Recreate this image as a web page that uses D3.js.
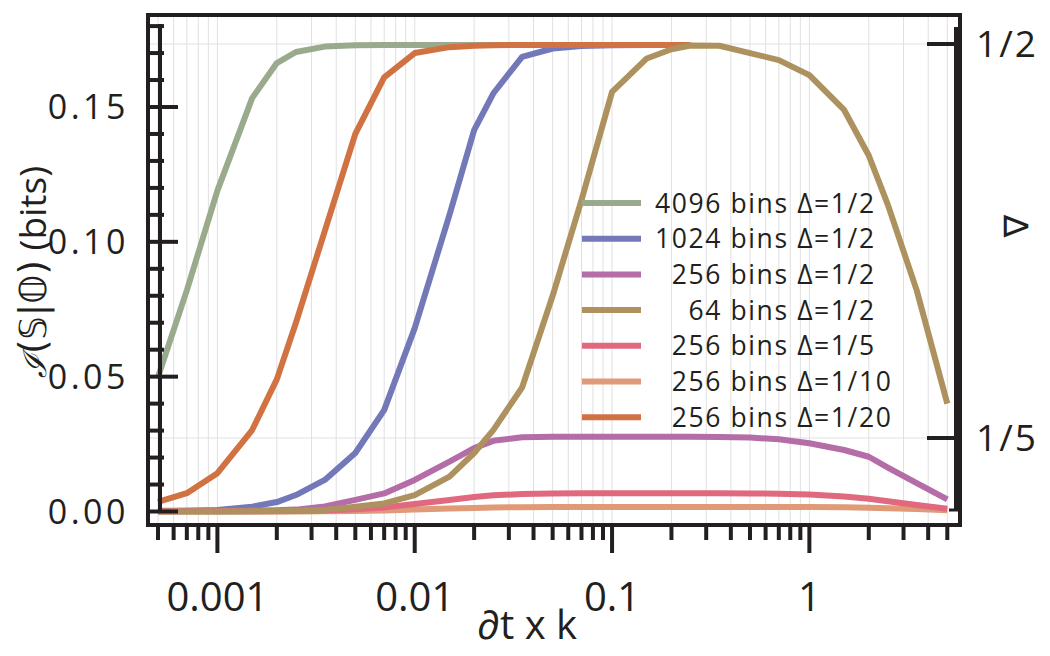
<!DOCTYPE html>
<html><head><meta charset="utf-8">
<script src="https://cdn.jsdelivr.net/npm/d3@7"></script>
<style>
body{margin:0;background:#fff}
svg{display:block}
text{fill:#231f20}
</style>
</head><body>
<svg id="c" width="1050" height="656"></svg>
<script>
// ---------------- data ----------------
const xValues = [0.0005,0.0007,0.001,0.0015,0.002,0.0025,0.0035,0.005,0.007,0.01,0.015,0.02,0.025,0.035,0.05,0.07,0.1,0.15,0.2,0.25,0.35,0.5,0.7,1,1.5,2,2.5,3.5,5];

const bins4096_d2 = [0.0499,0.082,0.119,0.1533,0.1663,0.1704,0.1724,0.1729,0.1730,0.1730,0.1730,0.1730,0.1730,0.1730,0.1730,0.1730,0.1730];
const bins1024_d2 = [0.0001,0.0003,0.0006,0.0018,0.0035,0.0061,0.0117,0.0217,0.0376,0.068,0.110,0.1414,0.155,0.1686,0.1717,0.1726,0.1729,0.1730,0.1730,0.1730];
const bins256_d2  = [0.0003,0.0003,0.0003,0.0004,0.0005,0.0007,0.0019,0.0043,0.0067,0.0117,0.0185,0.0235,0.0262,0.0275,0.0277,0.0277,0.0277,0.0277,0.0277,0.0277,0.0276,0.0274,0.0268,0.0253,0.0228,0.0203,0.0163,0.0105,0.0045];
const bins64_d2   = [0,0,0,0.0001,0.0002,0.0003,0.0006,0.0018,0.003,0.0061,0.0129,0.0217,0.0302,0.046,0.080,0.1155,0.1556,0.168,0.1714,0.1728,0.1727,0.170,0.1674,0.1618,0.1489,0.132,0.1137,0.082,0.0400];
const bins256_d5  = [0.0001,0.0001,0.0001,0.0001,0.0001,0.0002,0.0004,0.0008,0.0015,0.0028,0.0043,0.0054,0.006,0.0065,0.0067,0.0068,0.0068,0.0068,0.0068,0.0068,0.0068,0.0067,0.0066,0.0063,0.0056,0.0047,0.0038,0.0024,0.0010];
const bins256_d10 = [0,0,0,0,0,0,0.0001,0.0002,0.0004,0.0007,0.0011,0.0013,0.0015,0.0016,0.0017,0.0017,0.0017,0.0017,0.0017,0.0017,0.0017,0.0017,0.0017,0.0017,0.0016,0.0014,0.0012,0.0009,0.0005];
const bins256_d20 = [0.0036,0.0068,0.0142,0.0302,0.049,0.070,0.104,0.140,0.161,0.170,0.1722,0.1727,0.1729,0.1730,0.1730,0.1730,0.1730,0.1730,0.1730,0.1730];

const legendLabels = ["4096 bins Δ=1/2","1024 bins Δ=1/2","\u2007256 bins Δ=1/2","\u2007\u200764 bins Δ=1/2","\u2007256 bins Δ=1/5","\u2007256 bins Δ=1/10","\u2007256 bins Δ=1/20"];
const seriesColors = ["#9aab8d","#7378b8","#b46da6","#ad925f","#e0697e","#e09a78","#d17243"];
const legendSeries = [bins4096_d2,bins1024_d2,bins256_d2,bins64_d2,bins256_d5,bins256_d10,bins256_d20];
const drawOrder = [0,1,2,5,4,6,3];

const xMajorTicks = [0.001,0.01,0.1,1];
const xTickLabels = ["0.001","0.01","0.1","1"];
const yMajorTicks = [0,0.05,0.10,0.15];
const yTickLabels = ["0.00","0.05","0.10","0.15"];
const rightTicks = [0.2,0.5];
const rightTickLabels = ["1/5","1/2"];

// ---------------- layout ----------------
const svg = d3.select("#c");
const frame = {l:148, r:960, t:15, b:525};
const x = d3.scaleLog().domain([0.0005,5]).range([158,947.3]);
const y = d3.scaleLinear().domain([0,0.15]).range([511.5,107]);
const yR = d3.scaleLinear().domain([0.2,0.5]).range([438,44]);
const ink = "#231f20";

// minor x ticks
const xMinor = [];
for (let e=-4;e<=0;e++) for (let m=1;m<=9;m++){ const v=m*Math.pow(10,e); if (v>=0.0005-1e-12 && v<=5+1e-9) xMinor.push(+v.toPrecision(3)); }

// gridlines
const grid = svg.append("g").attr("stroke","#e0e0e0").attr("stroke-width",1);
grid.selectAll("line.v").data(xMinor).join("line")
  .attr("x1",d=>x(d)).attr("x2",d=>x(d)).attr("y1",frame.t).attr("y2",frame.b);
grid.selectAll("line.h").data(rightTicks).join("line")
  .attr("x1",frame.l).attr("x2",frame.r).attr("y1",d=>yR(d)).attr("y2",d=>yR(d));

// lines
const line = d3.line().x((d,i)=>x(xValues[i])).y(d=>y(d));
svg.append("g").selectAll("path").data(drawOrder).join("path")
  .attr("d",i=>line(legendSeries[i]))
  .attr("fill","none").attr("stroke",i=>seriesColors[i])
  .attr("stroke-width",6).attr("stroke-linejoin","round").attr("stroke-linecap","butt");

// frame
svg.append("rect").attr("x",frame.l).attr("y",frame.t).attr("width",frame.r-frame.l).attr("height",frame.b-frame.t)
  .attr("fill","none").attr("stroke",ink).attr("stroke-width",4);

// left inner spine + ticks
const yMinor = d3.range(0,19).map(i=>i/100);
svg.append("line").attr("x1",160).attr("x2",160).attr("y1",y(0.18)-2).attr("y2",y(0)+1)
  .attr("stroke",ink).attr("stroke-width",4);
svg.append("g").selectAll("line").data(yMinor).join("line")
  .attr("x1",frame.l).attr("x2",d=>yMajorTicks.some(t=>Math.abs(t-d)<1e-9)?178:164)
  .attr("y1",d=>y(d)).attr("y2",d=>y(d)).attr("stroke",ink).attr("stroke-width",4);
svg.append("g").selectAll("text").data(yMajorTicks).join("text")
  .attr("x",129).attr("y",d=>y(d)).attr("dy","0.36em").attr("text-anchor","end")
  .style("font-family","'Open Sans'").style("font-size","34px").style("letter-spacing","3.5px")
  .text((d,i)=>yTickLabels[i]);

// bottom ticks
svg.append("g").selectAll("line").data(xMinor).join("line")
  .attr("x1",d=>x(d)).attr("x2",d=>x(d)).attr("y1",frame.b)
  .attr("y2",d=>xMajorTicks.some(t=>Math.abs(t-d)/t<1e-6)?553:540)
  .attr("stroke",ink).attr("stroke-width",4);
svg.append("g").selectAll("text").data(xMajorTicks).join("text")
  .attr("x",d=>x(d)).attr("y",611).attr("text-anchor","middle")
  .style("font-family","'Open Sans'").style("font-size","40px")
  .text((d,i)=>xTickLabels[i]);

// right inner spine + ticks
svg.append("line").attr("x1",956).attr("x2",956).attr("y1",27).attr("y2",511)
  .attr("stroke",ink).attr("stroke-width",4);
svg.append("g").selectAll("line").data(rightTicks).join("line")
  .attr("x1",958).attr("x2",927).attr("y1",d=>yR(d)).attr("y2",d=>yR(d))
  .attr("stroke",ink).attr("stroke-width",4);
svg.append("line").attr("x1",958).attr("x2",949).attr("y1",510).attr("y2",510).attr("stroke",ink).attr("stroke-width",3);
svg.append("g").selectAll("text").data(rightTicks).join("text")
  .attr("x",976).attr("y",d=>yR(d)).attr("dy","0.36em")
  .style("font-family","'Open Sans'").style("font-size","37px").style("letter-spacing","2px")
  .text((d,i)=>rightTickLabels[i]);

// axis labels
svg.append("text").attr("x",527).attr("y",639).attr("text-anchor","middle")
  .style("font-family","'Open Sans'").style("font-size","40px").text("∂t x k");
const yl = svg.append("text").attr("transform","translate(46,272) rotate(-90)").attr("text-anchor","middle")
  .style("font-family","'Open Sans'").style("font-size","37px");
yl.append("tspan").style("font-family","'DejaVu Serif'").style("font-style","italic").style("font-size","32px").text("ℐ");
yl.append("tspan").style("font-family","'DejaVu Sans'").text("(𝕊|𝕆)");
yl.append("tspan").text(" (bits)");
svg.append("text").attr("transform","translate(1016,226) rotate(-90)").attr("text-anchor","middle").attr("dy","0.36em")
  .style("font-family","'DejaVu Sans'").style("font-size","34px").text("∇");

// legend
const lg = svg.append("g");
const rowY = i => 203 + i*35.7;
lg.selectAll("line").data(legendLabels).join("line")
  .attr("x1",582).attr("x2",641).attr("y1",(d,i)=>rowY(i)).attr("y2",(d,i)=>rowY(i))
  .attr("stroke",(d,i)=>seriesColors[i]).attr("stroke-width",6);
lg.selectAll("text").data(legendLabels).join("text")
  .attr("x",655).attr("y",(d,i)=>rowY(i)).attr("dy","0.36em")
  .style("font-family","'Open Sans'").style("font-size","26.5px").style("letter-spacing","1.6px")
  .style("white-space","pre").text(d=>d);
</script>
</body></html>
